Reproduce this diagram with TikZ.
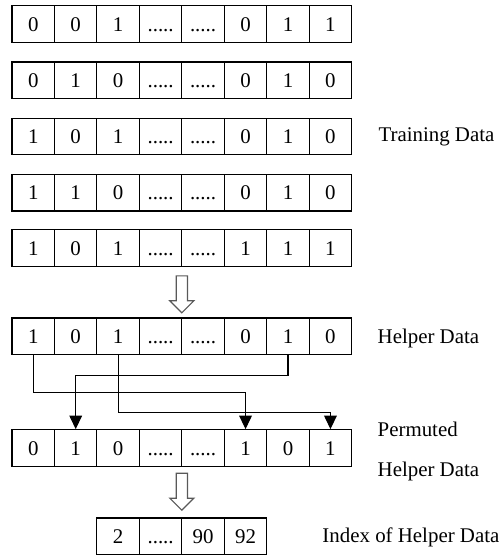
\documentclass[tikz,border=0pt]{standalone}
\usepackage{fontspec}
\setmainfont{Liberation Serif}
\usepackage{tikz}
\usetikzlibrary{arrows.meta, shapes.arrows}

\tikzset{
    hollow/.style={single arrow, draw=black!65, fill=white, shape border rotate=270,
        minimum height=0.87cm, single arrow head extend=0.15cm,
        single arrow head indent=0pt, inner sep=0.12cm, line width=0.8pt},
    label/.style={anchor=west, align=left, inner sep=0pt}
}

\begin{document}
\begin{tikzpicture}[font=\fontsize{14}{16}\selectfont, line width=0.7pt]
\useasboundingbox (0.217,0) rectangle (11.993,13.095);
\begin{scope}[every node/.style={rectangle,draw,minimum width=1cm,minimum height=0.87cm,
        inner sep=0pt,text height=9.5pt,text depth=0pt}]
    \node (t11) at (1,12.52) {0};
    \node (t12) at (2,12.52) {0};
    \node (t13) at (3,12.52) {1};
    \node (t14) at (4,12.52) {.....};
    \node (t15) at (5,12.52) {.....};
    \node (t16) at (6,12.52) {0};
    \node (t17) at (7,12.52) {1};
    \node (t18) at (8,12.52) {1};

    \node (t21) at (1,11.20) {0};
    \node (t22) at (2,11.20) {1};
    \node (t23) at (3,11.20) {0};
    \node (t24) at (4,11.20) {.....};
    \node (t25) at (5,11.20) {.....};
    \node (t26) at (6,11.20) {0};
    \node (t27) at (7,11.20) {1};
    \node (t28) at (8,11.20) {0};

    \node (t31) at (1,9.88) {1};
    \node (t32) at (2,9.88) {0};
    \node (t33) at (3,9.88) {1};
    \node (t34) at (4,9.88) {.....};
    \node (t35) at (5,9.88) {.....};
    \node (t36) at (6,9.88) {0};
    \node (t37) at (7,9.88) {1};
    \node (t38) at (8,9.88) {0};

    \node (t41) at (1,8.56) {1};
    \node (t42) at (2,8.56) {1};
    \node (t43) at (3,8.56) {0};
    \node (t44) at (4,8.56) {.....};
    \node (t45) at (5,8.56) {.....};
    \node (t46) at (6,8.56) {0};
    \node (t47) at (7,8.56) {1};
    \node (t48) at (8,8.56) {0};

    \node (t51) at (1,7.25) {1};
    \node (t52) at (2,7.25) {0};
    \node (t53) at (3,7.25) {1};
    \node (t54) at (4,7.25) {.....};
    \node (t55) at (5,7.25) {.....};
    \node (t56) at (6,7.25) {1};
    \node (t57) at (7,7.25) {1};
    \node (t58) at (8,7.25) {1};

    % helper data
    \node (h1) at (1,5.17) {1};
    \node (h2) at (2,5.17) {0};
    \node (h3) at (3,5.17) {1};
    \node (h4) at (4,5.17) {.....};
    \node (h5) at (5,5.17) {.....};
    \node (h6) at (6,5.17) {0};
    \node (h7) at (7,5.17) {1};
    \node (h8) at (8,5.17) {0};

    % permuted
    \node (p1) at (1,2.54) {0};
    \node (p2) at (2,2.54) {1};
    \node (p3) at (3,2.54) {0};
    \node (p4) at (4,2.54) {.....};
    \node (p5) at (5,2.54) {.....};
    \node (p6) at (6,2.54) {1};
    \node (p7) at (7,2.54) {0};
    \node (p8) at (8,2.54) {1};

    \node (i1) at (3,0.46) {2};
    \node (i2) at (4,0.46) {.....};
    \node (i3) at (5,0.46) {90};
    \node (i4) at (6,0.46) {92};
\end{scope}

\node [hollow] (d1) at (4.5,6.23) {};
\node [hollow] (d2) at (4.5,1.58) {};

\draw [-{Triangle[length=0.32cm,width=0.3cm]}] (h1.south) -- ++(0,-0.87) -| (p6.north);
\draw [-{Triangle[length=0.32cm,width=0.3cm]}] (h3.south) -- ++(0,-1.34) -| (p8.north);
\draw [-{Triangle[length=0.32cm,width=0.3cm]}] (h7.south) -- ++(0,-0.47) -| (p2.north);

\node [label] (ltrain) at (9.12,9.88) {Training Data};
\node [label] (lhelper) at (9.10,5.12) {Helper Data};
\node [label] (lperm) at (9.10,2.47) {Permuted\\[11pt]Helper Data};
\node [label] (lindex) at (7.80,0.43) {Index of Helper Data};
\end{tikzpicture}
\end{document}
